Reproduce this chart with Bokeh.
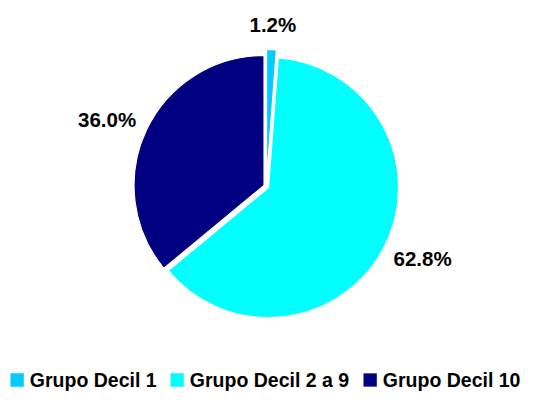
import math
from bokeh.plotting import figure
from bokeh.models import ColumnDataSource
from bokeh.core.properties import value
from bokeh.embed import file_html
from bokeh.resources import INLINE

# ---- data ----
categories = ["Grupo Decil 1", "Grupo Decil 2 a 9", "Grupo Decil 10"]
shares = [1.2, 62.8, 36.0]
pct_labels = ["1.2%", "62.8%", "36.0%"]
colors = ["#00CCFF", "#00FFFF", "#000080"]

# ---- layout ----
W, H = 539, 392
CX, CY = 265.8, 206.0
R = 130
explode = [7.0, 2.5, 2.5]
FONT = "Liberation Sans"
LABEL_PX = 20.5
LEGEND_PX = 19.5
legend_left = [10, 170, 363]
legend_mid = 12.5
SQ = 13.3

p = figure(width=W, height=H, x_range=(0, W), y_range=(0, H),
           output_backend="svg", toolbar_location=None,
           x_axis_type=None, y_axis_type=None, min_border=0,
           outline_line_color=None, background_fill_color="white",
           border_fill_color="white")
p.xgrid.visible = False
p.ygrid.visible = False

total = sum(shares)
cum = 0.0
xs, ys, starts, ends, lxs, lys = [], [], [], [], [], []
for i, s in enumerate(shares):
    f0 = cum / total
    cum += s
    f1 = cum / total
    a0 = math.pi / 2 - 2 * math.pi * f0
    a1 = math.pi / 2 - 2 * math.pi * f1
    mid = (a0 + a1) / 2
    ux, uy = math.cos(mid), math.sin(mid)
    x = CX + explode[i] * ux
    y = CY + explode[i] * uy
    xs.append(x); ys.append(y); starts.append(a0); ends.append(a1)
    hw = 0.556 * LABEL_PX * len(pct_labels[i]) / 2
    hh = 10
    lxs.append(x + (R + 15) * ux + hw * ux)
    lys.append(y + (R + 15) * uy + hh * uy)

src = ColumnDataSource(dict(x=xs, y=ys, start=starts, end=ends, color=colors,
                            lx=lxs, ly=lys, label=pct_labels))
p.wedge(x="x", y="y", radius=R, start_angle="start", end_angle="end",
        direction="clock", fill_color="color", line_color="white",
        line_width=1.2, source=src)
p.text(x="lx", y="ly", text="label", source=src, text_align="center",
       text_baseline="middle", text_font=value(FONT), text_font_style="bold",
       text_font_size=f"{LABEL_PX}px", text_color="black")

# ---- legend ----
leg = ColumnDataSource(dict(
    sx=[l + SQ / 2 for l in legend_left],
    sy=[legend_mid] * 3,
    tx=[l + SQ + 6 for l in legend_left],
    ty=[legend_mid] * 3,
    name=categories, color=colors))
p.rect(x="sx", y="sy", width=SQ, height=SQ, fill_color="color",
       line_color=None, source=leg)
p.text(x="tx", y="ty", text="name", source=leg, text_align="left",
       text_baseline="middle", text_font=value(FONT),
       text_font_style="bold", text_font_size=f"{LEGEND_PX}px",
       text_color="black")

open("out.html", "w").write(file_html(p, INLINE))
